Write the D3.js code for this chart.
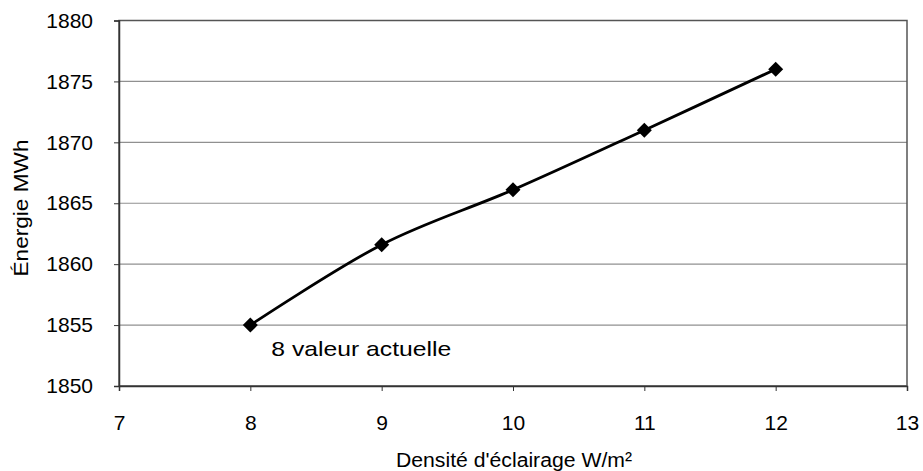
<!DOCTYPE html>
<html><head><meta charset="utf-8">
<script src="https://cdn.jsdelivr.net/npm/d3@7"></script>
<style>body{margin:0;background:#fff}svg{display:block}text{font-family:"Liberation Sans",Arial,sans-serif;fill:#000}</style>
</head><body>
<svg id="c" width="923" height="471"></svg>
<script>
const densite = [8, 9, 10, 11, 12];
const energie = [1855, 1861.6, 1866.1, 1871, 1876];
const xTicks = [7, 8, 9, 10, 11, 12, 13];
const yTicks = [1850, 1855, 1860, 1865, 1870, 1875, 1880];
const xTitle = "Densité d'éclairage W/m²";
const yTitle = "Énergie MWh";
const note = "8 valeur actuelle";

const svg = d3.select("#c");
const L = 119, R = 907, T = 20.5, B = 386;
const x = d3.scaleLinear().domain([7, 13]).range([L, R]);
const y = d3.scaleLinear().domain([1850, 1880]).range([B, T]);

// gridlines
svg.append("g").selectAll("line").data(yTicks).join("line")
  .attr("x1", L).attr("x2", R).attr("y1", d => y(d)).attr("y2", d => y(d))
  .attr("stroke", "#909090").attr("stroke-width", 1.2);

// border
svg.append("rect").attr("x", L).attr("y", T).attr("width", R - L).attr("height", B - T)
  .attr("fill", "none").attr("stroke", "#555").attr("stroke-width", 1.5);

// axes
const ya = svg.append("g").attr("transform", `translate(${L},0)`)
  .call(d3.axisLeft(y).tickValues(yTicks).tickSize(5).tickPadding(21).tickFormat(d3.format("d")));
const xa = svg.append("g").attr("transform", `translate(0,${B})`)
  .call(d3.axisBottom(x).tickValues(xTicks).tickSize(5).tickPadding(24).tickFormat(d3.format("d")));
[ya, xa].forEach(g => {
  g.select(".domain").attr("stroke", "#333").attr("stroke-width", 1.5);
  g.selectAll(".tick line").attr("stroke", "#333");
  g.selectAll(".tick text").attr("font-size", 21).attr("fill", "#000")
   .attr("font-family", "'Liberation Sans',Arial,sans-serif");
});

// line
const pts = densite.map((d, i) => [d, energie[i]]);
svg.append("path").datum(pts)
  .attr("d", d3.line().x(d => x(d[0])).y(d => y(d[1])).curve(d3.curveCardinal.tension(0)))
  .attr("fill", "none").attr("stroke", "#000").attr("stroke-width", 2.8);

// markers
svg.append("g").selectAll("path").data(pts).join("path")
  .attr("transform", d => `translate(${x(d[0])},${y(d[1])})`)
  .attr("d", "M0,-7.5L7.5,0L0,7.5L-7.5,0Z").attr("fill", "#000");

// annotation
svg.append("text").attr("x", x(8) + 21).attr("y", y(1855) + 31)
  .attr("font-size", 21).attr("textLength", 180).attr("lengthAdjust", "spacingAndGlyphs").text(note);

// titles
svg.append("text").attr("x", 514).attr("y", 467).attr("text-anchor", "middle")
  .attr("font-size", 20).attr("textLength", 236).attr("lengthAdjust", "spacingAndGlyphs").text(xTitle);
svg.append("text").attr("transform", `translate(28,208) rotate(-90)`)
  .attr("text-anchor", "middle").attr("font-size", 20)
  .attr("textLength", 137).attr("lengthAdjust", "spacingAndGlyphs").text(yTitle);
</script>
</body></html>
